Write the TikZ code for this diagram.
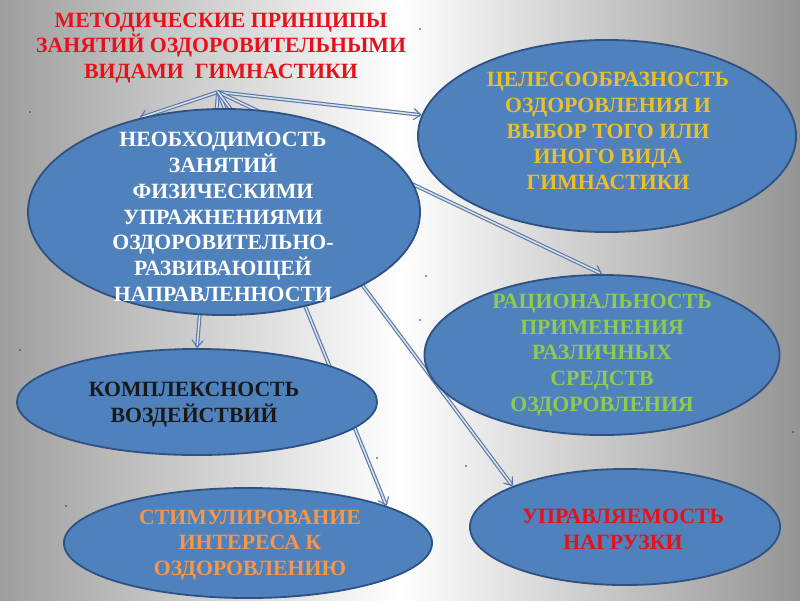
\documentclass[tikz,border=0pt]{standalone}
\usepackage{fontspec}
\setmainfont{Liberation Serif}
\usetikzlibrary{arrows.meta}
\usetikzlibrary{shapes}
\usetikzlibrary{backgrounds,positioning}
\definecolor{blobfill}{HTML}{4F81BD}
\definecolor{blobline}{HTML}{2F5283}
\definecolor{linkblue}{HTML}{5478B0}
\definecolor{goldtxt}{HTML}{EAC02A}
\definecolor{greentxt}{HTML}{8FCB4F}
\definecolor{orangetxt}{HTML}{F5964A}
\definecolor{redtxt}{HTML}{E8101A}

\begin{document}
\begin{tikzpicture}[x=0.025cm,y=-0.025cm]
      \tikzstyle{blob}=[ellipse,draw=blobline,fill=blobfill,line width=1.3pt,inner sep=0pt]
      \tikzstyle{txt}=[font=\bfseries\fontsize{15.5}{18.4}\selectfont,align=center,inner sep=0pt]
      \tikzstyle{link}=[draw=linkblue,double=white!75!gray,double distance=1.1pt,line width=0.8pt,-{Straight Barb[length=5pt,width=8pt]}]
      \useasboundingbox (0,0) rectangle (800,600);

      % ellipses
      \node[blob,minimum width=9.8cm,minimum height=5.15cm]   (need)  at (224,212) {};
      \node[blob,minimum width=9.45cm,minimum height=4.8cm]   (aim)   at (607,136) {};
      \node[blob,minimum width=8.875cm,minimum height=4cm]    (ratio) at (602,355) {};
      \node[blob,minimum width=9cm,minimum height=2.65cm]     (compl) at (197,402) {};
      \node[blob,minimum width=9.2cm,minimum height=2.75cm]   (stim)  at (248,543) {};
      \node[blob,minimum width=7.75cm,minimum height=2.9cm]   (load)  at (625,527) {};
      \coordinate (src) at (218,92);

      % texts
      \node[txt,text=redtxt] (title) at (221,48) {МЕТОДИЧЕСКИЕ ПРИНЦИПЫ\\ЗАНЯТИЙ ОЗДОРОВИТЕЛЬНЫМИ\\ВИДАМИ\ \ ГИМНАСТИКИ};
      \node[txt,text=white] (needtxt) at (223,217) {НЕОБХОДИМОСТЬ\\ЗАНЯТИЙ\\ФИЗИЧЕСКИМИ\\УПРАЖНЕНИЯМИ\\ОЗДОРОВИТЕЛЬНО-\\РАЗВИВАЮЩЕЙ\\НАПРАВЛЕННОСТИ};
      \node[txt,text=goldtxt] (aimtxt) at (608,131) {ЦЕЛЕСООБРАЗНОСТЬ\\ОЗДОРОВЛЕНИЯ И\\ВЫБОР ТОГО ИЛИ\\ИНОГО ВИДА\\ГИМНАСТИКИ};
      \node[txt,text=greentxt] (ratiotxt) at (602,355) {РАЦИОНАЛЬНОСТЬ\\ПРИМЕНЕНИЯ\\РАЗЛИЧНЫХ\\СРЕДСТВ\\ОЗДОРОВЛЕНИЯ};
      \node[txt,text=black!90] (compltxt) at (194,405) {КОМПЛЕКСНОСТЬ\\ВОЗДЕЙСТВИЙ};
      \node[txt,text=orangetxt] (stimtxt) at (250,545) {СТИМУЛИРОВАНИЕ\\ИНТЕРЕСА К\\ОЗДОРОВЛЕНИЮ};
      \node[txt,text=redtxt] (loadtxt) at (623,529) {УПРАВЛЯЕМОСТЬ\\НАГРУЗКИ};

      \begin{scope}[on background layer]
        \shade[left color=black!38,right color=black!42,middle color=white] (0,0) rectangle (800,600);
        % specks
        \foreach \p in {(420,29),(30,112),(426,276),(420,320),(377,458),(466,466),(20,350),(793,432),(66,506)}
          \fill[black!80] \p circle (0.9);
        % connectors
        \draw[link] (src) -- (need.132);
        \draw[link] (src) -- (aim);
        \draw[link] (src) -- (ratio.north);
        \draw[link] (src) -- (compl.north);
        \draw[link] (src) -- (stim.15);
        \draw[link] (src) -- (load.160);
      \end{scope}
\end{tikzpicture}
\end{document}
